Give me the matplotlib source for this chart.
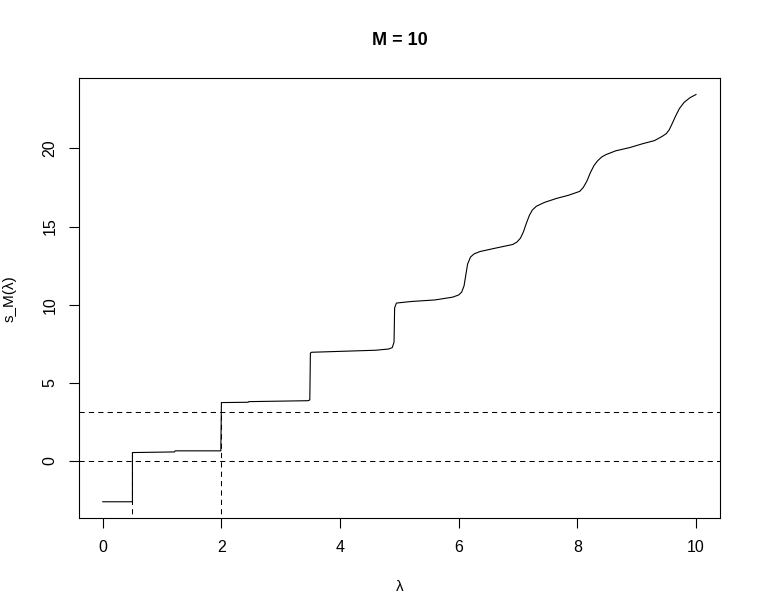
import matplotlib
matplotlib.use("Agg")
import matplotlib.pyplot as plt

# s_M(lambda), M = 10
lam = [0.0, 0.5, 0.5, 1.21, 1.22, 1.99, 2.0, 2.45, 2.46, 3.46, 3.49, 3.5, 3.52,
       4.18, 4.6, 4.82, 4.88, 4.91, 4.92, 4.95, 5.2, 5.6, 5.9, 6.0, 6.05, 6.09,
       6.12, 6.15, 6.2, 6.26, 6.36, 6.6, 6.91, 6.98, 7.04, 7.09, 7.14, 7.19,
       7.24, 7.31, 7.45, 7.65, 7.85, 8.04, 8.1, 8.16, 8.22, 8.28, 8.34, 8.41,
       8.48, 8.65, 8.88, 9.1, 9.3, 9.43, 9.5, 9.55, 9.6, 9.66, 9.72, 9.8, 9.9,
       10.0]
s_m = [-2.62, -2.62, 0.53, 0.57, 0.64, 0.64, 3.73, 3.75, 3.79, 3.85, 3.9, 6.9, 6.95,
       7.03, 7.08, 7.16, 7.25, 7.6, 9.8, 10.1, 10.2, 10.3, 10.48, 10.62, 10.8,
       11.2, 11.9, 12.6, 13.05, 13.25, 13.4, 13.6, 13.85, 14.0, 14.25, 14.65,
       15.2, 15.7, 16.05, 16.3, 16.55, 16.8, 17.0, 17.25, 17.5, 17.9, 18.45, 18.9,
       19.2, 19.45, 19.6, 19.85, 20.05, 20.3, 20.5, 20.77, 20.95, 21.2, 21.6,
       22.1, 22.55, 22.95, 23.25, 23.45]

h_levels = [0, 3.14]
v_lams = [0.5, 2.0]
v_tops = [0, 3.14]

x_ticks = [0, 2, 4, 6, 8, 10]
y_ticks = [0, 5, 10, 15, 20]

plt.rcParams["font.family"] = ["Liberation Sans", "DejaVu Sans"]

fig = plt.figure(figsize=(7.6, 6.16), dpi=100)
ax = fig.add_axes([0.104, 0.159, 0.843, 0.714])

dash = (0, (5, 4))
ax.plot(lam, s_m, color="black", lw=0.8)
for h in h_levels:
    ax.axhline(h, color="black", lw=0.75, ls=dash)
for xv, top in zip(v_lams, v_tops):
    ax.plot([xv, xv], [-10, top], color="black", lw=0.75, ls=dash)

# R style 4% padding
xr = max(lam) - min(lam)
yr = max(s_m) - min(s_m)
ax.set_xlim(min(lam) - 0.04 * xr, max(lam) + 0.04 * xr)
ax.set_ylim(min(s_m) - 0.04 * yr, max(s_m) + 0.04 * yr)

ax.set_xticks(x_ticks)
ax.set_yticks(y_ticks)
ax.set_yticklabels([str(t) for t in y_ticks], rotation=90, va="center")
ax.tick_params(direction="out", length=7, width=0.8, labelsize=11.5, pad=8.5)
for sp in ax.spines.values():
    sp.set_linewidth(0.8)

ax.set_title("M = 10", fontsize=13, fontweight="bold", pad=24)
ax.set_xlabel("λ", fontsize=11, labelpad=18)
ax.set_ylabel("s_M(λ)", fontsize=11, labelpad=19)

fig.savefig("out.png", dpi=100)
